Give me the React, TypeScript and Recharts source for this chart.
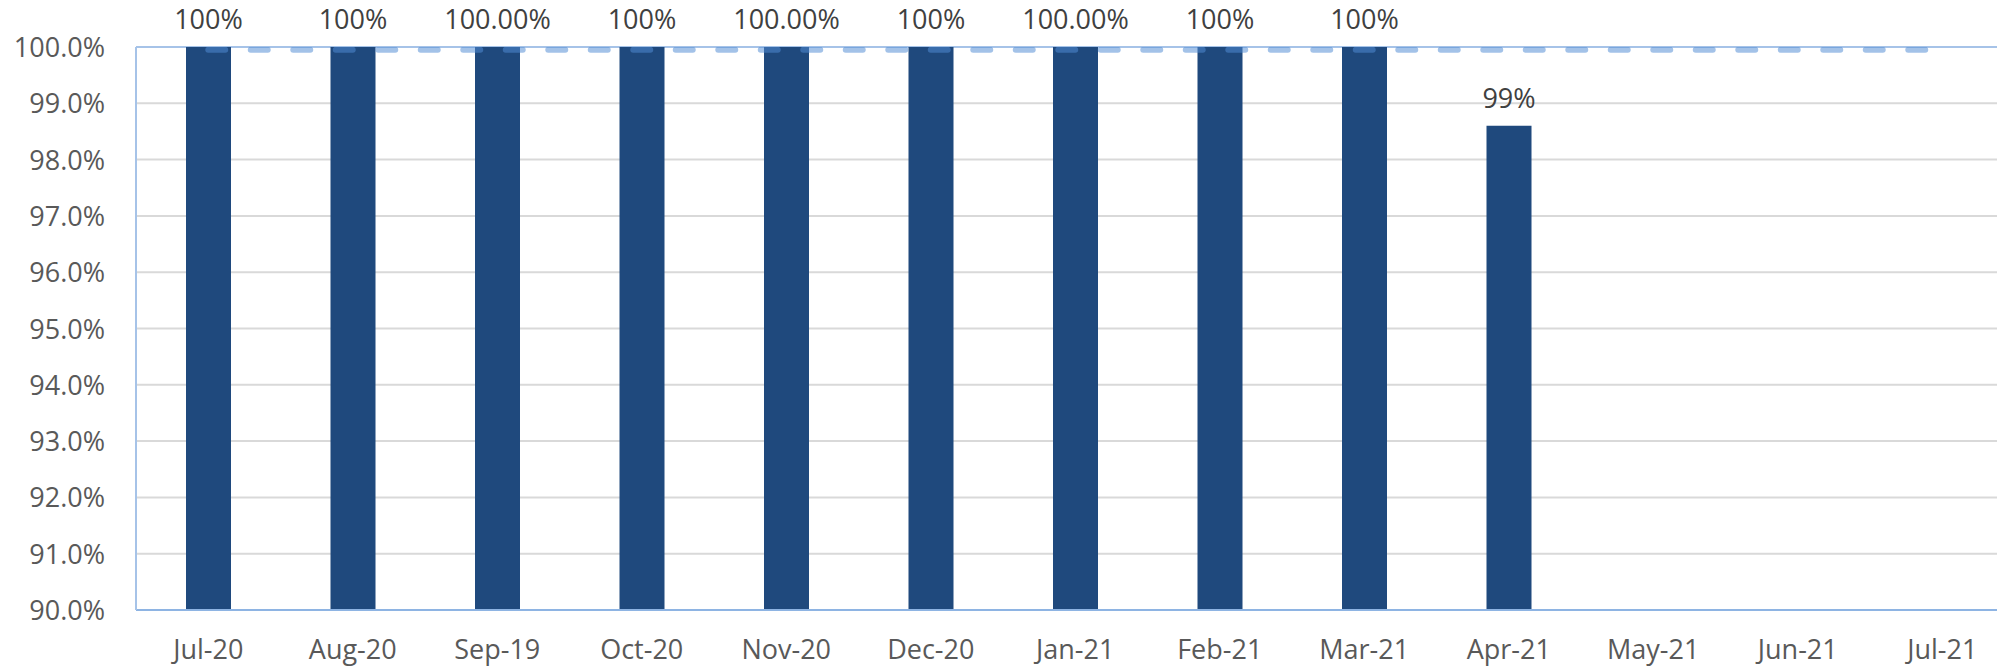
import React from "react";
import {
  ComposedChart,
  Bar,
  Line,
  XAxis,
  YAxis,
  CartesianGrid,
  LabelList,
} from "recharts";

const months = [
  "Jul-20", "Aug-20", "Sep-19", "Oct-20", "Nov-20", "Dec-20", "Jan-21",
  "Feb-21", "Mar-21", "Apr-21", "May-21", "Jun-21", "Jul-21",
];
const actualValues: (number | null)[] = [
  100, 100, 100, 100, 100, 100, 100, 100, 100, 98.6, null, null, null,
];
const barLabels: (string | null)[] = [
  "100%", "100%", "100.00%", "100%", "100.00%", "100%", "100.00%", "100%", "100%", "99%",
  null, null, null,
];
const targetValues = [
  99.95, 99.95, 99.95, 99.95, 99.95, 99.95, 99.95, 99.95, 99.95, 99.95, 99.95, 99.95, 99.95,
];
const yTicks = [90, 91, 92, 93, 94, 95, 96, 97, 98, 99, 100];
const gridValues = [91, 92, 93, 94, 95, 96, 97, 98, 99];
const borderValues = [100];

const data = months.map((m, i) => ({
  month: m,
  actual: actualValues[i],
  label: barLabels[i],
  target: targetValues[i],
}));

const FONT = "'Open Sans', 'Liberation Sans', sans-serif";

const YTick = (props: any) => {
  const { x, y, payload } = props;
  return (
    <text x={x - 31} y={y} dy={10} textAnchor="end" fill="#595959" fontFamily={FONT} fontSize={27}>
      {`${Number(payload.value).toFixed(1)}%`}
    </text>
  );
};

const XTick = (props: any) => {
  const { x, y, payload } = props;
  return (
    <text x={x} y={y} dy={49} textAnchor="middle" fill="#595959" fontFamily={FONT} fontSize={27}>
      {payload.value}
    </text>
  );
};

const BarLabel = (props: any) => {
  const { x, y, width, value } = props;
  if (value == null) return null;
  return (
    <text x={x + width / 2} y={y - 18} textAnchor="middle" fill="#404040" fontFamily={FONT} fontSize={27}>
      {value}
    </text>
  );
};

export default function App() {
  return (
    <div style={{ position: "fixed", left: 0, top: 0, width: 1997, height: 670, overflow: "hidden", background: "#fff" }}>
      <ComposedChart
        width={2040}
        height={670}
        data={data}
        margin={{ top: 47, right: 25.5, left: 0, bottom: 0 }}
      >
        <CartesianGrid horizontal vertical={false} horizontalValues={gridValues} stroke="#D9D9D9" strokeWidth={2} />
        <CartesianGrid horizontal vertical={false} horizontalValues={borderValues} stroke="#A6C3E8" strokeWidth={2} />
        <XAxis
          dataKey="month"
          interval={0}
          tickLine={false}
          tickSize={0}
          tickMargin={0}
          height={60}
          axisLine={{ stroke: "#8EB4E3", strokeWidth: 2 }}
          tick={<XTick />}
        />
        <YAxis
          type="number"
          domain={[90, 100]}
          ticks={yTicks}
          allowDataOverflow
          width={136}
          tickLine={false}
          tickSize={0}
          tickMargin={0}
          axisLine={{ stroke: "#A6C3E8", strokeWidth: 2 }}
          tick={<YTick />}
        />
        <Bar dataKey="actual" fill="#1F497D" barSize={45} isAnimationActive={false}>
          <LabelList dataKey="label" content={<BarLabel />} />
        </Bar>
        <Line
          dataKey="target"
          stroke="#528BD3"
          strokeOpacity={0.53}
          strokeWidth={6}
          strokeDasharray="17 25.5"
          strokeLinecap="round"
          dot={false}
          activeDot={false}
          isAnimationActive={false}
        />
      </ComposedChart>
    </div>
  );
}
